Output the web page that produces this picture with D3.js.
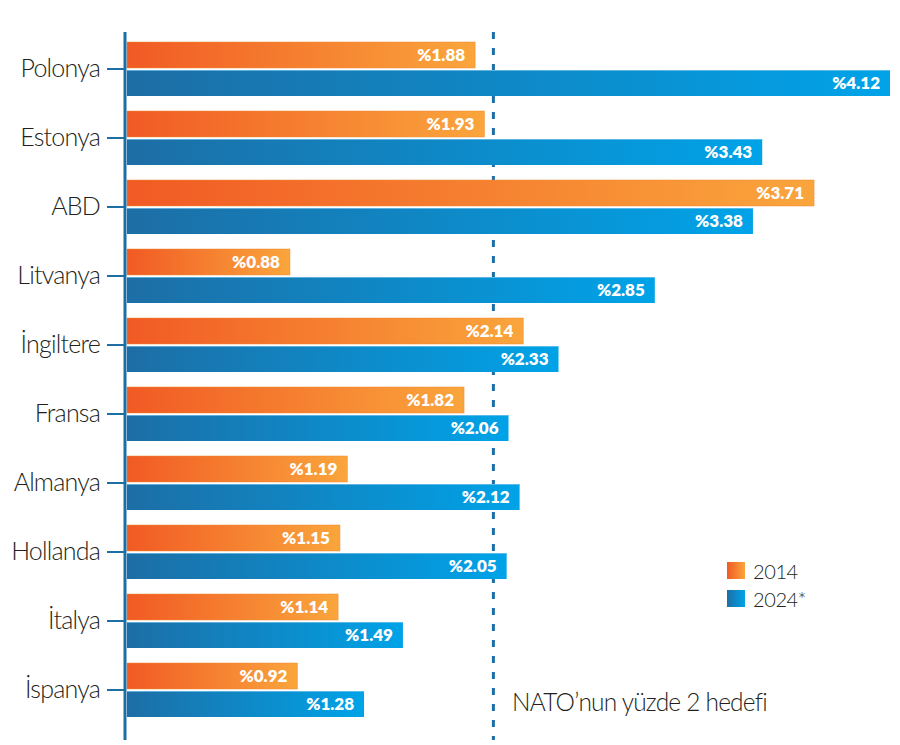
<!DOCTYPE html>
<html><head><meta charset="utf-8">
<script src="https://cdn.jsdelivr.net/npm/d3@7"></script>
<style>
html,body{margin:0;padding:0;background:#fff;}
svg{display:block;font-family:Lato,"Noto Sans",sans-serif;}
</style></head>
<body>
<svg id="chart" width="900" height="745"></svg>
<script>
const countries = ["Polonya","Estonya","ABD","Litvanya","İngiltere","Fransa","Almanya","Hollanda","İtalya","İspanya"];
const values2014 = [1.88,1.93,3.71,0.88,2.14,1.82,1.19,1.15,1.14,0.92];
const values2024 = [4.12,3.43,3.38,2.85,2.33,2.06,2.12,2.05,1.49,1.28];
const seriesNames = ["2014","2024*"];
const natoTarget = 2;
const natoLabel = "NATO’nun yüzde 2 hedefi";

const svg = d3.select("#chart");
const defs = svg.append("defs");
function grad(id, c0, c1){
  const g = defs.append("linearGradient").attr("id", id).attr("x1","0").attr("x2","1").attr("y1","0").attr("y2","0");
  g.append("stop").attr("offset","0").attr("stop-color",c0);
  g.append("stop").attr("offset","1").attr("stop-color",c1);
}
grad("gOrange", "#f15a24", "#faa53c");
grad("gBlue", "#1d6ea5", "#00a3e8");

const x = d3.scaleLinear().domain([0, 4.12]).range([127, 890]);
const y = d3.scaleBand().domain(countries).range([34.5, 724.5]).padding(0);
const half = 26;

// NATO dashed line (behind bars)
svg.append("line")
  .attr("x1", x(natoTarget)-4).attr("x2", x(natoTarget)-4)
  .attr("y1", 32).attr("y2", 740)
  .attr("stroke", "#1d6ea5").attr("stroke-width", 3)
  .attr("stroke-dasharray", "7,9");

const rows = svg.append("g").selectAll("g").data(countries).join("g")
  .attr("transform", d => `translate(0,${y(d) + y.bandwidth()/2})`);

rows.append("rect")
  .attr("x", x(0)).attr("y", -half-1)
  .attr("width", (d,i) => x(values2014[i]) - x(0))
  .attr("height", half)
  .attr("fill", "url(#gOrange)")
  .attr("stroke", "#f08a30").attr("stroke-width", 0.8).attr("stroke-opacity", 0.6);

rows.append("rect")
  .attr("x", x(0)).attr("y", 1)
  .attr("width", (d,i) => x(values2024[i]) - x(0))
  .attr("height", half)
  .attr("fill", "url(#gBlue)");

rows.append("line")
  .attr("x1", x(0)).attr("y1", 1.5)
  .attr("x2", (d,i) => x(values2024[i])).attr("y2", 1.5)
  .attr("stroke", "#7fc6ec").attr("stroke-width", 1).attr("stroke-opacity", 0.7);

rows.append("text")
  .attr("x", (d,i) => x(values2014[i]) - 10)
  .attr("y", -half/2 - 1).attr("dy", "0.36em")
  .attr("text-anchor", "end").attr("fill", "#fff")
  .attr("font-weight", 800).attr("font-size", 17)
  .text((d,i) => "%" + values2014[i].toFixed(2));

rows.append("text")
  .attr("x", (d,i) => x(values2024[i]) - 10)
  .attr("y", half/2 + 1).attr("dy", "0.36em")
  .attr("text-anchor", "end").attr("fill", "#fff")
  .attr("font-weight", 800).attr("font-size", 17)
  .text((d,i) => "%" + values2024[i].toFixed(2));

// Axis
const yAxis = d3.axisLeft(y).tickSize(18).tickSizeOuter(0).tickPadding(7);
const ax = svg.append("g").attr("transform", "translate(125,0)").call(yAxis);
ax.select(".domain").remove();
ax.selectAll(".tick line").attr("stroke", "#1d6ea5").attr("stroke-width", 2);
ax.selectAll(".tick text").attr("fill", "#231f20").attr("font-size", 25)
  .attr("font-weight", 300)
  .attr("font-family", "Lato, sans-serif").attr("letter-spacing", -0.8);
svg.append("line").attr("x1",125).attr("x2",125).attr("y1",32).attr("y2",740)
  .attr("stroke","#1d6ea5").attr("stroke-width",3);

// Legend
const legend = svg.append("g").attr("transform","translate(727,562)");
const lg = legend.selectAll("g").data(seriesNames).join("g")
  .attr("transform",(d,i)=>`translate(0,${i*28})`);
lg.append("rect").attr("width",18).attr("height",17)
  .attr("fill",(d,i)=> i===0 ? "url(#gOrange)" : "url(#gBlue)");
lg.append("text").attr("x",26).attr("y",17).attr("font-size",20).attr("font-weight",300)
  .attr("fill","#231f20").attr("letter-spacing",-0.4).text(d=>d);

// NATO label
svg.append("text").attr("x", 512).attr("y", 711)
  .attr("font-size", 24.5).attr("font-weight", 300).attr("fill", "#231f20").attr("letter-spacing", -0.8)
  .text(natoLabel);
</script>
</body></html>
